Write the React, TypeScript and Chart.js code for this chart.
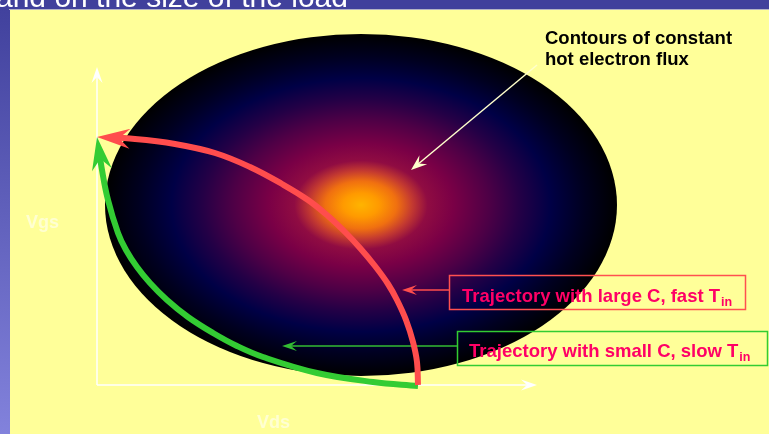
import { useEffect, useRef } from "react";
import { Chart, registerables } from "chart.js";

Chart.register(...registerables);

const W = 769;
const H = 434;

// ---- Data (diagram units: Vds to the right, Vgs upwards, origin at the axes corner) ----
const xRange = [-97, 672];
const yRange = [-49, 385];

const redTrajectoryX = [321, 320, 316, 309, 300, 291, 278, 263, 248, 231, 211, 185, 153, 118, 78, 38, 0];
const redTrajectoryY = [0, 23, 43, 65, 85, 101, 119, 137, 153, 169, 185, 201, 218, 232, 241, 246, 248];

const greenTrajectoryX = [321, 276, 220, 166, 140, 116, 91, 70, 53, 40, 29, 21, 11, 5, 0];
const greenTrajectoryY = [-1, 3, 12, 28, 39, 52, 68, 85, 102, 118, 135, 152, 185, 215, 248];

const vgsAxisX = [0, 0];
const vgsAxisY = [0, 318];
const vdsAxisX = [0, 440];
const vdsAxisY = [0, 0];

const fastPointerX = [352, 305];
const fastPointerY = [95, 95];
const slowPointerX = [360, 185];
const slowPointerY = [39, 39];
const contourPointerX = [440, 314];
const contourPointerY = [320, 215];

const fluxCenter = [264, 180];
const fluxRadii = [256, 171];

const axisLabels = ["Vgs", "Vds"];
const contourLabel = ["Contours of constant", "hot electron flux"];
const legendLabels = ["Trajectory with large C, fast T", "Trajectory with small C, slow T"];
const legendSubscripts = ["in", "in"];
const titleText = "and on the size of the load";

// ---- Layout (diagram units) ----
const axisLabelPos = [
  [-71, 157],
  [160, -43],
];
const contourLabelPos = [
  [448, 341],
  [448, 320],
];
const legendBoxes = [
  { x0: 352, x1: 648, y0: 110, y1: 76, tx: 365, ty: 83, color: "#ff5050" },
  { x0: 360, x1: 670, y0: 54, y1: 20, tx: 372, ty: 28, color: "#33cc33" },
];

const FONT = '"Liberation Sans", Arial, sans-serif';

const pts = (xs: number[], ys: number[]) => xs.map((x, i) => ({ x, y: ys[i] }));

function arrowHead(ctx: CanvasRenderingContext2D, tip: any, from: any, a: any, color: string) {
  const dx = tip.x - from.x;
  const dy = tip.y - from.y;
  const L = Math.hypot(dx, dy) || 1;
  const ux = dx / L, uy = dy / L;
  const nx = -uy, ny = ux;
  ctx.save();
  ctx.fillStyle = color;
  ctx.beginPath();
  ctx.moveTo(tip.x, tip.y);
  ctx.lineTo(tip.x - ux * a.len + nx * a.half, tip.y - uy * a.len + ny * a.half);
  ctx.lineTo(tip.x - ux * a.notch, tip.y - uy * a.notch);
  ctx.lineTo(tip.x - ux * a.len - nx * a.half, tip.y - uy * a.len - ny * a.half);
  ctx.closePath();
  ctx.fill();
  ctx.restore();
}

const diagramPlugin = {
  id: "diagram",
  beforeDraw(chart: any) {
    const ctx = chart.ctx as CanvasRenderingContext2D;
    ctx.save();
    ctx.fillStyle = "#40409c";
    ctx.fillRect(0, 0, W, H);
    const g = ctx.createLinearGradient(0, 0, 0, H);
    g.addColorStop(0, "#40409c");
    g.addColorStop(1, "#8282dc");
    ctx.fillStyle = g;
    ctx.fillRect(0, 10, 10, H);
    ctx.fillStyle = "#ffffff";
    ctx.font = `30px ${FONT}`;
    ctx.textBaseline = "alphabetic";
    ctx.fillText(titleText, -4, 7);
    ctx.fillStyle = "#b4b4c4";
    ctx.fillRect(9, 9, W, 1);
    ctx.fillStyle = "#ffff99";
    ctx.fillRect(10, 10, W, H);
    ctx.restore();
  },
  beforeDatasetsDraw(chart: any) {
    const ctx = chart.ctx as CanvasRenderingContext2D;
    const xs = chart.scales.x, ys = chart.scales.y;
    const cx = xs.getPixelForValue(fluxCenter[0]);
    const cy = ys.getPixelForValue(fluxCenter[1]);
    const rx = xs.getPixelForValue(fluxCenter[0] + fluxRadii[0]) - cx;
    const ry = cy - ys.getPixelForValue(fluxCenter[1] + fluxRadii[1]);
    ctx.save();
    ctx.translate(cx, cy);
    ctx.scale(1, ry / rx);
    const g = ctx.createRadialGradient(0, 0, 0, 0, 0, rx);
    g.addColorStop(0, "#ffb400");
    g.addColorStop(0.07, "#ff9a00");
    g.addColorStop(0.14, "#f07010");
    g.addColorStop(0.2, "#c43a30");
    g.addColorStop(0.26, "#900c42");
    g.addColorStop(0.36, "#7a0046");
    g.addColorStop(0.5, "#4e0046");
    g.addColorStop(0.62, "#240046");
    g.addColorStop(0.74, "#000046");
    g.addColorStop(0.87, "#000020");
    g.addColorStop(1, "#000000");
    ctx.fillStyle = g;
    ctx.beginPath();
    ctx.arc(0, 0, rx, 0, Math.PI * 2);
    ctx.fill();
    ctx.restore();
  },
  beforeDatasetDraw(chart: any, args: any) {
    const ds = chart.data.datasets[args.index];
    const ctx = chart.ctx as CanvasRenderingContext2D;
    ctx.save();
    if (ds.arrow) {
      const d = args.meta.data;
      const tip = d[d.length - 1];
      ctx.beginPath();
      ctx.rect(0, 0, W, H);
      ctx.arc(tip.x, tip.y, ds.arrow.notch * 0.7, 0, Math.PI * 2);
      ctx.clip("evenodd");
    }
  },
  afterDatasetDraw(chart: any, args: any) {
    const ds = chart.data.datasets[args.index];
    const ctx = chart.ctx as CanvasRenderingContext2D;
    ctx.restore();
    if (ds.arrow) {
      const d = args.meta.data;
      arrowHead(ctx, d[d.length - 1], d[d.length - 2], ds.arrow, ds.borderColor);
    }
  },
  afterDatasetsDraw(chart: any) {
    const ctx = chart.ctx as CanvasRenderingContext2D;
    const xs = chart.scales.x, ys = chart.scales.y;
    const px = (v: number) => xs.getPixelForValue(v);
    const py = (v: number) => ys.getPixelForValue(v);
    ctx.save();
    ctx.textBaseline = "alphabetic";
    // axis labels
    ctx.font = `bold 18px ${FONT}`;
    ctx.fillStyle = "#ffffd2";
    axisLabels.forEach((t, i) => ctx.fillText(t, px(axisLabelPos[i][0]), py(axisLabelPos[i][1])));
    // contour label
    ctx.font = `bold 18.5px ${FONT}`;
    ctx.fillStyle = "#000000";
    contourLabel.forEach((t, i) => ctx.fillText(t, px(contourLabelPos[i][0]), py(contourLabelPos[i][1])));
    // legend boxes
    legendBoxes.forEach((b, i) => {
      const x0 = px(b.x0), x1 = px(b.x1), y0 = py(b.y0), y1 = py(b.y1);
      ctx.strokeStyle = b.color;
      ctx.lineWidth = 1.5;
      ctx.strokeRect(Math.round(x0) + 0.5, Math.round(y0) + 0.5, Math.round(x1 - x0), Math.round(y1 - y0));
      ctx.fillStyle = "#ff0066";
      ctx.font = `bold 18.5px ${FONT}`;
      const tx = px(b.tx), ty = py(b.ty);
      ctx.fillText(legendLabels[i], tx, ty);
      const w = ctx.measureText(legendLabels[i]).width;
      ctx.font = `bold 12.5px ${FONT}`;
      ctx.fillText(legendSubscripts[i], tx + w + 1, ty + 4);
    });
    ctx.restore();
  },
};

export default function App() {
  const ref = useRef<HTMLCanvasElement | null>(null);
  useEffect(() => {
    document.body.style.margin = "0";
    const canvas = ref.current;
    if (!canvas) return;
    const line = (data: any, color: string, width: number, tension: number, arrow: any) => ({
      data,
      showLine: true,
      borderColor: color,
      backgroundColor: color,
      borderWidth: width,
      pointRadius: 0,
      pointHoverRadius: 0,
      tension,
      fill: false,
      borderCapStyle: "butt",
      borderJoinStyle: "round",
      arrow,
    });
    const chart = new Chart(canvas, {
      type: "scatter",
      data: {
        datasets: [
          line(pts(redTrajectoryX, redTrajectoryY), "#ff4d4d", 6, 0.4, { len: 33, half: 10, notch: 22 }),
          line(pts(greenTrajectoryX, greenTrajectoryY), "#33cc33", 6, 0.4, { len: 33, half: 10, notch: 22 }),
          line(pts(fastPointerX, fastPointerY), "#ff4d4d", 1.5, 0, { len: 15, half: 5, notch: 9 }),
          line(pts(slowPointerX, slowPointerY), "#33bb33", 1.5, 0, { len: 15, half: 5, notch: 9 }),
          line(pts(contourPointerX, contourPointerY), "#ffffcc", 1.5, 0, { len: 16, half: 6, notch: 10 }),
          line(pts(vgsAxisX, vgsAxisY), "#ffffff", 1.5, 0, { len: 16, half: 5.5, notch: 10 }),
          line(pts(vdsAxisX, vdsAxisY), "#ffffff", 1.5, 0, { len: 16, half: 5.5, notch: 10 }),
        ] as any,
      },
      options: {
        responsive: false,
        animation: false,
        devicePixelRatio: 1,
        layout: { padding: 0 },
        events: [],
        scales: {
          x: { type: "linear", min: xRange[0], max: xRange[1], display: false },
          y: { type: "linear", min: yRange[0], max: yRange[1], display: false },
        },
        plugins: { legend: { display: false }, tooltip: { enabled: false } },
      },
      plugins: [diagramPlugin],
    } as any);
    return () => chart.destroy();
  }, []);
  return <canvas ref={ref} width={W} height={H} style={{ display: "block" }} />;
}
